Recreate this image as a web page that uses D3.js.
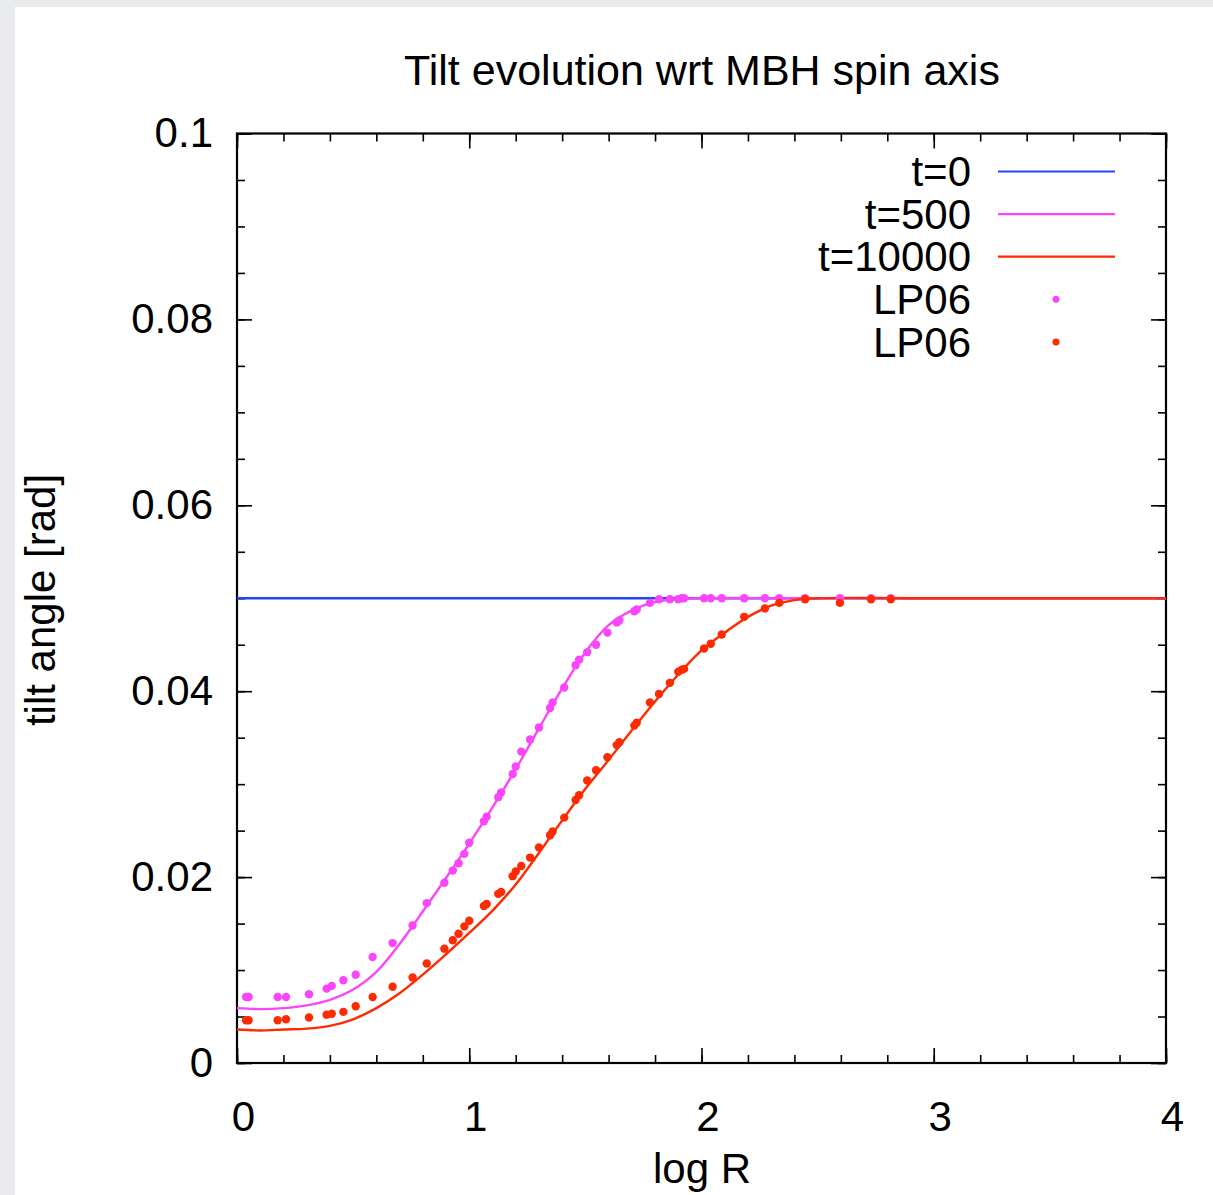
<!DOCTYPE html>
<html>
<head>
<meta charset="utf-8">
<script src="https://cdn.jsdelivr.net/npm/d3@7"></script>
<style>
  html, body { margin: 0; padding: 0; background: #e9eaee; }
  svg { display: block; }
  text { font-family: "Liberation Sans", Arial, sans-serif; fill: #000; }
</style>
</head>
<body>
<div id="d3-container"></div>
<script>
const width = 1213
const height = 1195

// model curves (log R, tilt angle)
const t0R = [0, 4]
const t0Tilt = [0.05, 0.05]

const t500R = [0, 0.1, 0.2, 0.3, 0.4, 0.5, 0.6, 0.7, 0.8, 0.9, 1.0, 1.1, 1.2, 1.3, 1.4, 1.5, 1.6, 1.7, 1.8, 1.9, 2.0, 2.5, 3.0, 4.0]
const t500Tilt = [0.0059, 0.0058, 0.0059, 0.0062, 0.0068, 0.0079, 0.0098, 0.0128, 0.0163, 0.0199, 0.0236, 0.0275, 0.0316, 0.0360, 0.0403, 0.0442, 0.0471, 0.0487, 0.0496, 0.0499, 0.0500, 0.0500, 0.0500, 0.0500]

const t10000R = [0, 0.1, 0.2, 0.3, 0.4, 0.5, 0.6, 0.7, 0.8, 0.9, 1.0, 1.1, 1.2, 1.3, 1.4, 1.5, 1.6, 1.7, 1.8, 1.9, 2.0, 2.1, 2.2, 2.3, 2.4, 2.5, 3.0, 4.0]
const t10000Tilt = [0.0036, 0.0035, 0.0036, 0.0037, 0.0040, 0.0047, 0.0059, 0.0075, 0.0095, 0.0117, 0.0140, 0.0164, 0.0192, 0.0226, 0.0261, 0.0295, 0.0326, 0.0358, 0.0389, 0.0418, 0.0444, 0.0463, 0.0480, 0.0492, 0.0498, 0.0500, 0.0500, 0.0500]

// LP06 points, same radial grid for both times
const lpR = [0.039, 0.050, 0.175, 0.211, 0.310, 0.386, 0.408, 0.458, 0.511, 0.584, 0.670, 0.756, 0.817, 0.893, 0.929, 0.954, 0.979, 1.000, 1.063, 1.075, 1.125, 1.137, 1.187, 1.200, 1.224, 1.262, 1.300, 1.348, 1.359, 1.409, 1.458, 1.473, 1.508, 1.546, 1.595, 1.635, 1.646, 1.711, 1.721, 1.778, 1.817, 1.864, 1.900, 1.915, 1.925, 2.011, 2.040, 2.087, 2.184, 2.273, 2.335, 2.446, 2.596, 2.730, 2.815]
const lp500Tilt = [0.0071, 0.0071, 0.0071, 0.0071, 0.0074, 0.0080, 0.0083, 0.0089, 0.0095, 0.0114, 0.0129, 0.0148, 0.0172, 0.0194, 0.0207, 0.0215, 0.0225, 0.0237, 0.0260, 0.0265, 0.0286, 0.0291, 0.0311, 0.0319, 0.0335, 0.0348, 0.0361, 0.0382, 0.0388, 0.0404, 0.0428, 0.0434, 0.0442, 0.0450, 0.0463, 0.0474, 0.0476, 0.0486, 0.0488, 0.0495, 0.0499, 0.0499, 0.0499, 0.0500, 0.0500, 0.0500, 0.0500, 0.0500, 0.0500, 0.0500, 0.0500, 0.0500, 0.0500, 0.0500, 0.0500]
const lp10000Tilt = [0.0046, 0.0046, 0.0046, 0.0047, 0.0049, 0.0052, 0.0053, 0.0055, 0.0061, 0.0071, 0.0082, 0.0092, 0.0107, 0.0123, 0.0132, 0.0139, 0.0147, 0.0153, 0.0169, 0.0171, 0.0182, 0.0184, 0.0201, 0.0206, 0.0212, 0.0221, 0.0232, 0.0245, 0.0249, 0.0264, 0.0283, 0.0288, 0.0304, 0.0315, 0.0329, 0.0342, 0.0345, 0.0363, 0.0366, 0.0388, 0.0397, 0.0409, 0.0421, 0.0423, 0.0424, 0.0446, 0.0451, 0.0461, 0.0480, 0.0489, 0.0495, 0.0499, 0.0495, 0.0499, 0.0499]

const xTicks = [0, 1, 2, 3, 4]
const yTicks = [0, 0.02, 0.04, 0.06, 0.08, 0.1]
const yTickLabels = ["0", "0.02", "0.04", "0.06", "0.08", "0.1"]

const blue = "#2447f5"
const pink = "#fa46fa"
const red = "#ff2a00"

const series = [
  { label: "t=0", type: "line", color: blue, r: t0R, v: t0Tilt },
  { label: "t=500", type: "line", color: pink, r: t500R, v: t500Tilt },
  { label: "t=10000", type: "line", color: red, r: t10000R, v: t10000Tilt },
  { label: "LP06", type: "dots", color: pink, r: lpR, v: lp500Tilt },
  { label: "LP06", type: "dots", color: red, r: lpR, v: lp10000Tilt },
]

const margin = { left: 237, right: 1166, top: 133.5, bottom: 1063 }

const svg = d3.select("#d3-container")
  .append("svg")
  .attr("width", width)
  .attr("height", height)

// white page panel over the grey background
svg.append("rect")
  .attr("x", 15).attr("y", 7)
  .attr("width", width - 15).attr("height", height - 7)
  .attr("fill", "#fff")

const xScale = d3.scaleLinear()
  .domain([0, 4])
  .range([margin.left, margin.right])

const yScale = d3.scaleLinear()
  .domain([0, 0.1])
  .range([margin.bottom, margin.top])

const plotH = margin.bottom - margin.top
const plotW = margin.right - margin.left

// ticks, inward, mirrored on all four sides
const xMinor = d3.range(0, 4.001, 0.2)
const yMinor = d3.range(0, 0.1001, 0.005)

const axBottom = svg.append("g").attr("transform", `translate(0,${margin.bottom})`)
  .call(d3.axisBottom(xScale).tickValues(xMinor).tickSizeInner(-8).tickSizeOuter(0).tickFormat(""))
const axBottomMaj = svg.append("g").attr("transform", `translate(0,${margin.bottom})`)
  .call(d3.axisBottom(xScale).tickValues(xTicks).tickSizeInner(-15).tickSizeOuter(0).tickPadding(38).tickFormat(d3.format("d")))
const axTop = svg.append("g").attr("transform", `translate(0,${margin.top})`)
  .call(d3.axisTop(xScale).tickValues(xMinor).tickSizeInner(-8).tickSizeOuter(0).tickFormat(""))
const axTopMaj = svg.append("g").attr("transform", `translate(0,${margin.top})`)
  .call(d3.axisTop(xScale).tickValues(xTicks).tickSizeInner(-15).tickSizeOuter(0).tickFormat(""))
const axLeft = svg.append("g").attr("transform", `translate(${margin.left},0)`)
  .call(d3.axisLeft(yScale).tickValues(yMinor).tickSizeInner(-8).tickSizeOuter(0).tickFormat(""))
const axLeftMaj = svg.append("g").attr("transform", `translate(${margin.left},0)`)
  .call(d3.axisLeft(yScale).tickValues(yTicks).tickSizeInner(-15).tickSizeOuter(0).tickPadding(40)
    .tickFormat((d, i) => yTickLabels[i]))
const axRight = svg.append("g").attr("transform", `translate(${margin.right},0)`)
  .call(d3.axisRight(yScale).tickValues(yMinor).tickSizeInner(-8).tickSizeOuter(0).tickFormat(""))
const axRightMaj = svg.append("g").attr("transform", `translate(${margin.right},0)`)
  .call(d3.axisRight(yScale).tickValues(yTicks).tickSizeInner(-15).tickSizeOuter(0).tickFormat(""))

svg.selectAll(".domain").remove()
svg.selectAll(".tick line").attr("stroke", "#000").attr("stroke-width", 1.6)
svg.selectAll(".tick text")
  .attr("font-size", 42)
  .attr("font-family", "Liberation Sans, Arial, sans-serif")
  .attr("fill", "#000")
axBottomMaj.selectAll(".tick text").attr("dx", 6)
axLeftMaj.selectAll(".tick text").attr("x", -24)

// frame
svg.append("rect")
  .attr("x", margin.left).attr("y", margin.top)
  .attr("width", plotW).attr("height", plotH)
  .attr("fill", "none")
  .attr("stroke", "#000")
  .attr("stroke-width", 2.2)

// curves
const lineFunc = d3.line()
  .x(d => xScale(d[0]))
  .y(d => yScale(d[1]))
  .curve(d3.curveCatmullRom.alpha(0.5))

const plot = svg.append("g")

series.forEach(s => {
  const pts = s.r.map((r, i) => [r, s.v[i]])
  if (s.type === "line") {
    plot.append("path")
      .attr("class", "trend")
      .attr("d", lineFunc(pts))
      .attr("fill", "none")
      .attr("stroke", s.color)
      .attr("stroke-width", 2.4)
  } else {
    plot.selectAll(null)
      .data(pts)
      .join("circle")
      .attr("cx", d => xScale(d[0]))
      .attr("cy", d => yScale(d[1]))
      .attr("r", 4.2)
      .attr("fill", s.color)
  }
})

// legend
const legend = svg.append("g")
series.forEach((s, i) => {
  const y = 171.5 + i * 42.6
  legend.append("text")
    .attr("x", 971).attr("y", y)
    .attr("dy", "0.35em")
    .attr("text-anchor", "end")
    .attr("font-size", 42)
    .text(s.label)
  if (s.type === "line") {
    legend.append("line")
      .attr("x1", 998).attr("x2", 1115)
      .attr("y1", y).attr("y2", y)
      .attr("stroke", s.color)
      .attr("stroke-width", 2.2)
  } else {
    legend.append("circle")
      .attr("cx", 1056).attr("cy", y)
      .attr("r", 3.5)
      .attr("fill", s.color)
  }
})

// titles
svg.append("text")
  .attr("x", 702).attr("y", 85)
  .attr("text-anchor", "middle")
  .attr("font-size", 43)
  .text("Tilt evolution wrt MBH spin axis")

svg.append("text")
  .attr("x", 702).attr("y", 1183)
  .attr("text-anchor", "middle")
  .attr("font-size", 42)
  .text("log R")

svg.append("text")
  .attr("transform", "translate(55,600) rotate(-90)")
  .attr("text-anchor", "middle")
  .attr("font-size", 42)
  .text("tilt angle [rad]")
</script>
</body>
</html>
